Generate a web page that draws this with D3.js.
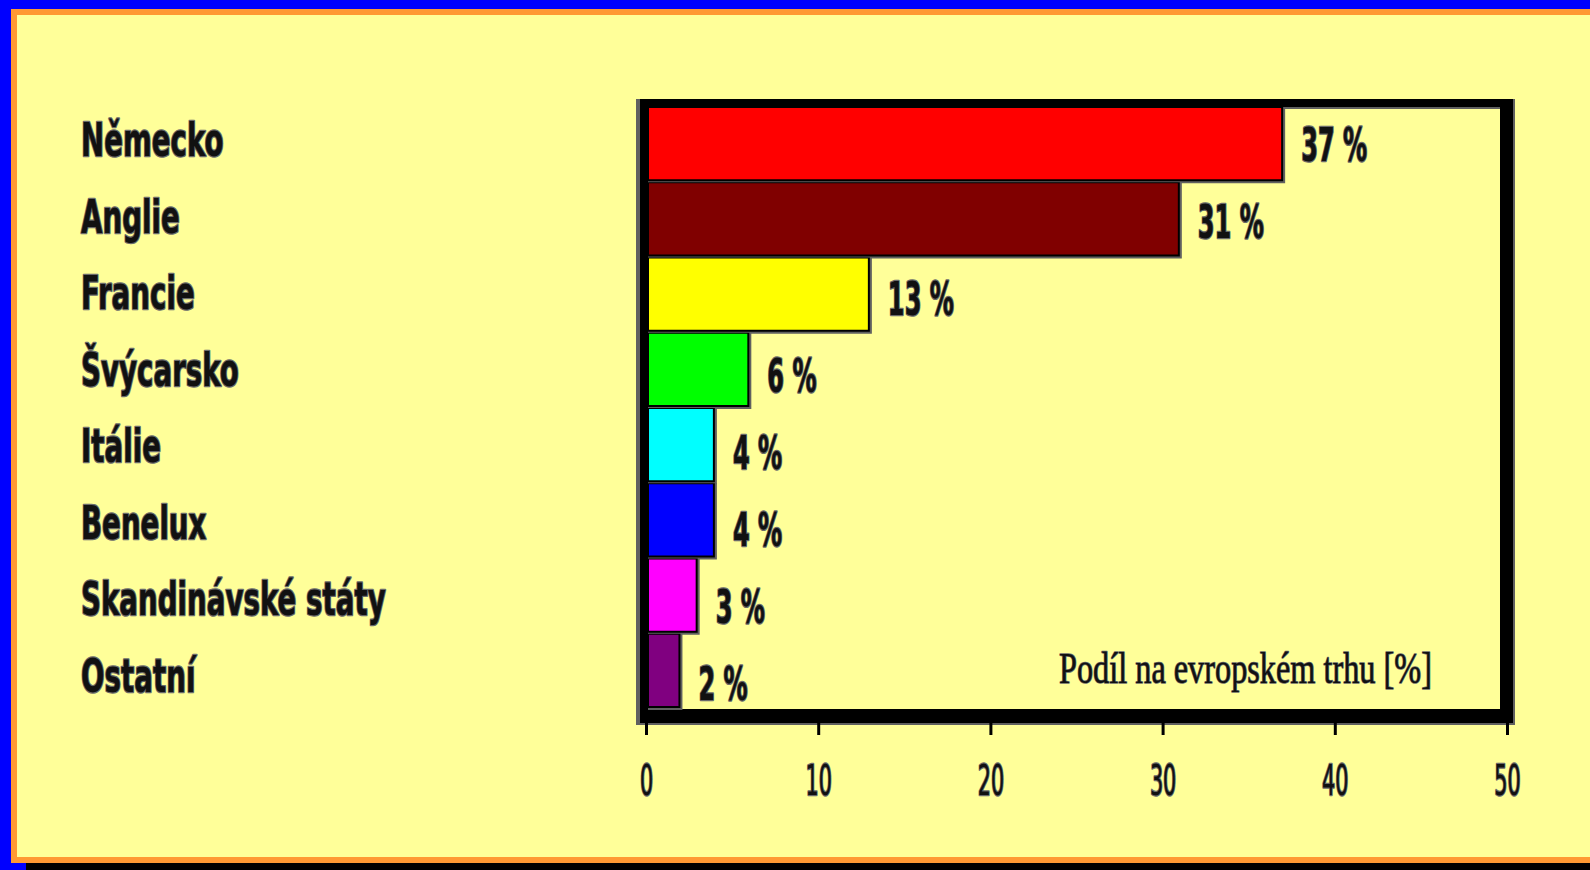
<!DOCTYPE html>
<html>
<head>
<meta charset="utf-8">
<script src="https://cdn.jsdelivr.net/npm/d3@7"></script>
<style>
  html, body { margin: 0; padding: 0; background: #0000ff; overflow: hidden; }
  svg { display: block; }
</style>
</head>
<body>
<svg id="chart" width="1590" height="870"></svg>
<script>
// Market share in Europe by country group
const categories = ["Německo", "Anglie", "Francie", "Švýcarsko", "Itálie", "Benelux", "Skandinávské státy", "Ostatní"];
const shares = [37, 31, 13, 6, 4, 4, 3, 2];
const barColors = ["#ff0000", "#800000", "#ffff00", "#00ff00", "#00ffff", "#0000ff", "#ff00ff", "#800080"];
const tickValues = [0, 10, 20, 30, 40, 50];
const xDomain = [0, 50];
const axisTitle = "Podíl na evropském trhu [%]";

const rows = categories.map((c, i) => ({ name: c, value: shares[i], color: barColors[i] }));

const W = 1590, H = 870;
const svg = d3.select("#chart");

// Page frame: blue edge, orange trim, pale yellow sheet, dark strip at the foot
svg.append("rect").attr("x", 0).attr("y", 0).attr("width", W).attr("height", H).attr("fill", "#0000ff");
svg.append("rect").attr("x", 26).attr("y", 863).attr("width", W - 26).attr("height", 7).attr("fill", "#000");
svg.append("rect").attr("x", 11).attr("y", 9).attr("width", W - 11).attr("height", 854).attr("fill", "#ff9933");
svg.append("rect").attr("x", 17).attr("y", 15).attr("width", W - 17).attr("height", 842).attr("fill", "#ffff99");

// Plot box
const box = { left: 640, top: 99, right: 1513, bottom: 723, inL: 648, inT: 107, inR: 1500, inB: 709 };

const x = d3.scaleLinear().domain(xDomain).range([646, 1507]);
const y = d3.scaleBand().domain(categories).range([box.inT, box.inB]).padding(0);
// text rows run on a slightly looser pitch than the bars
const yName = d3.scalePoint().domain(categories).range([156, 692]);
const yValue = d3.scalePoint().domain(categories).range([161, 700]);

// box shadow + heavy black frame
svg.append("rect").attr("x", box.left - 4).attr("y", box.top).attr("width", box.right - box.left + 6)
  .attr("height", box.bottom - box.top + 2).attr("fill", "#606060");
svg.append("rect").attr("x", box.left).attr("y", box.top).attr("width", box.right - box.left)
  .attr("height", box.bottom - box.top).attr("fill", "#000");
svg.append("rect").attr("x", box.inL).attr("y", box.inT).attr("width", box.inR - box.inL)
  .attr("height", box.inB - box.inT).attr("fill", "#ffff99");
svg.append("rect").attr("x", box.inL).attr("y", box.inT).attr("width", box.inR - box.inL)
  .attr("height", 2).attr("fill", "#606060");

// Bars
const bh = y.bandwidth();
const bars = svg.append("g").attr("class", "bars");
rows.forEach(d => {
  const g = bars.append("g");
  const x1 = x(d.value), y0 = y(d.name);
  // soft grey drop edge
  g.append("rect").attr("x", box.inL).attr("y", y0).attr("width", x1 - box.inL + 2)
    .attr("height", bh + 1).attr("fill", "#606060");
  // black outline on right and bottom
  g.append("rect").attr("x", box.inL).attr("y", y0).attr("width", x1 - box.inL)
    .attr("height", bh - 1).attr("fill", "#000");
  // coloured body
  g.append("rect").attr("x", box.inL + 1).attr("y", y0 + 1).attr("width", x1 - box.inL - 3)
    .attr("height", bh - 4).attr("fill", d.color);
});

const labelFont = "'DejaVu Sans Condensed', 'Liberation Sans Narrow', 'Arial Narrow', sans-serif";

function haloText(sel) {
  return sel.attr("fill", "#111").attr("stroke", "#6a6a6a").attr("stroke-width", 2.5)
    .attr("paint-order", "stroke").attr("stroke-linejoin", "round");
}

// Category names on the left
const cats = svg.append("g").attr("class", "categories");
rows.forEach(d => {
  const t = cats.append("text")
    .attr("transform", `translate(81,${yName(d.name)}) scale(0.655,1)`)
    .attr("font-family", labelFont).attr("font-weight", "bold").attr("font-size", 47)
    .text(d.name);
  haloText(t);
});

// Value labels after each bar
const fmt = v => `${v} %`;
const vals = svg.append("g").attr("class", "values");
rows.forEach(d => {
  const t = vals.append("text")
    .attr("transform", `translate(${x(d.value) + 18},${yValue(d.name)}) scale(0.57,1)`)
    .attr("font-family", labelFont).attr("font-weight", "bold").attr("font-size", 47)
    .text(fmt(d.value));
  haloText(t);
});

// Bottom axis
const axis = d3.axisBottom(x).tickValues(tickValues).tickSize(12).tickSizeOuter(0).tickFormat(d3.format("d"));
const ax = svg.append("g").attr("transform", `translate(0,${box.bottom})`).call(axis);
ax.select(".domain").remove();
ax.selectAll(".tick line").attr("stroke", "#000").attr("stroke-width", 3);
ax.selectAll(".tick text")
  .attr("y", 72).attr("dy", null)
  .attr("transform", "scale(0.55,1)")
  .attr("font-family", labelFont).attr("font-size", 42)
  .call(haloText);

// Axis title inside the plot
const title = svg.append("text")
  .attr("transform", "translate(1059,683) scale(0.734,1)")
  .attr("font-family", "'Liberation Serif', 'Times New Roman', serif").attr("font-size", 44)
  .text(axisTitle);
haloText(title).attr("stroke-width", 1.5);
</script>
</body>
</html>
